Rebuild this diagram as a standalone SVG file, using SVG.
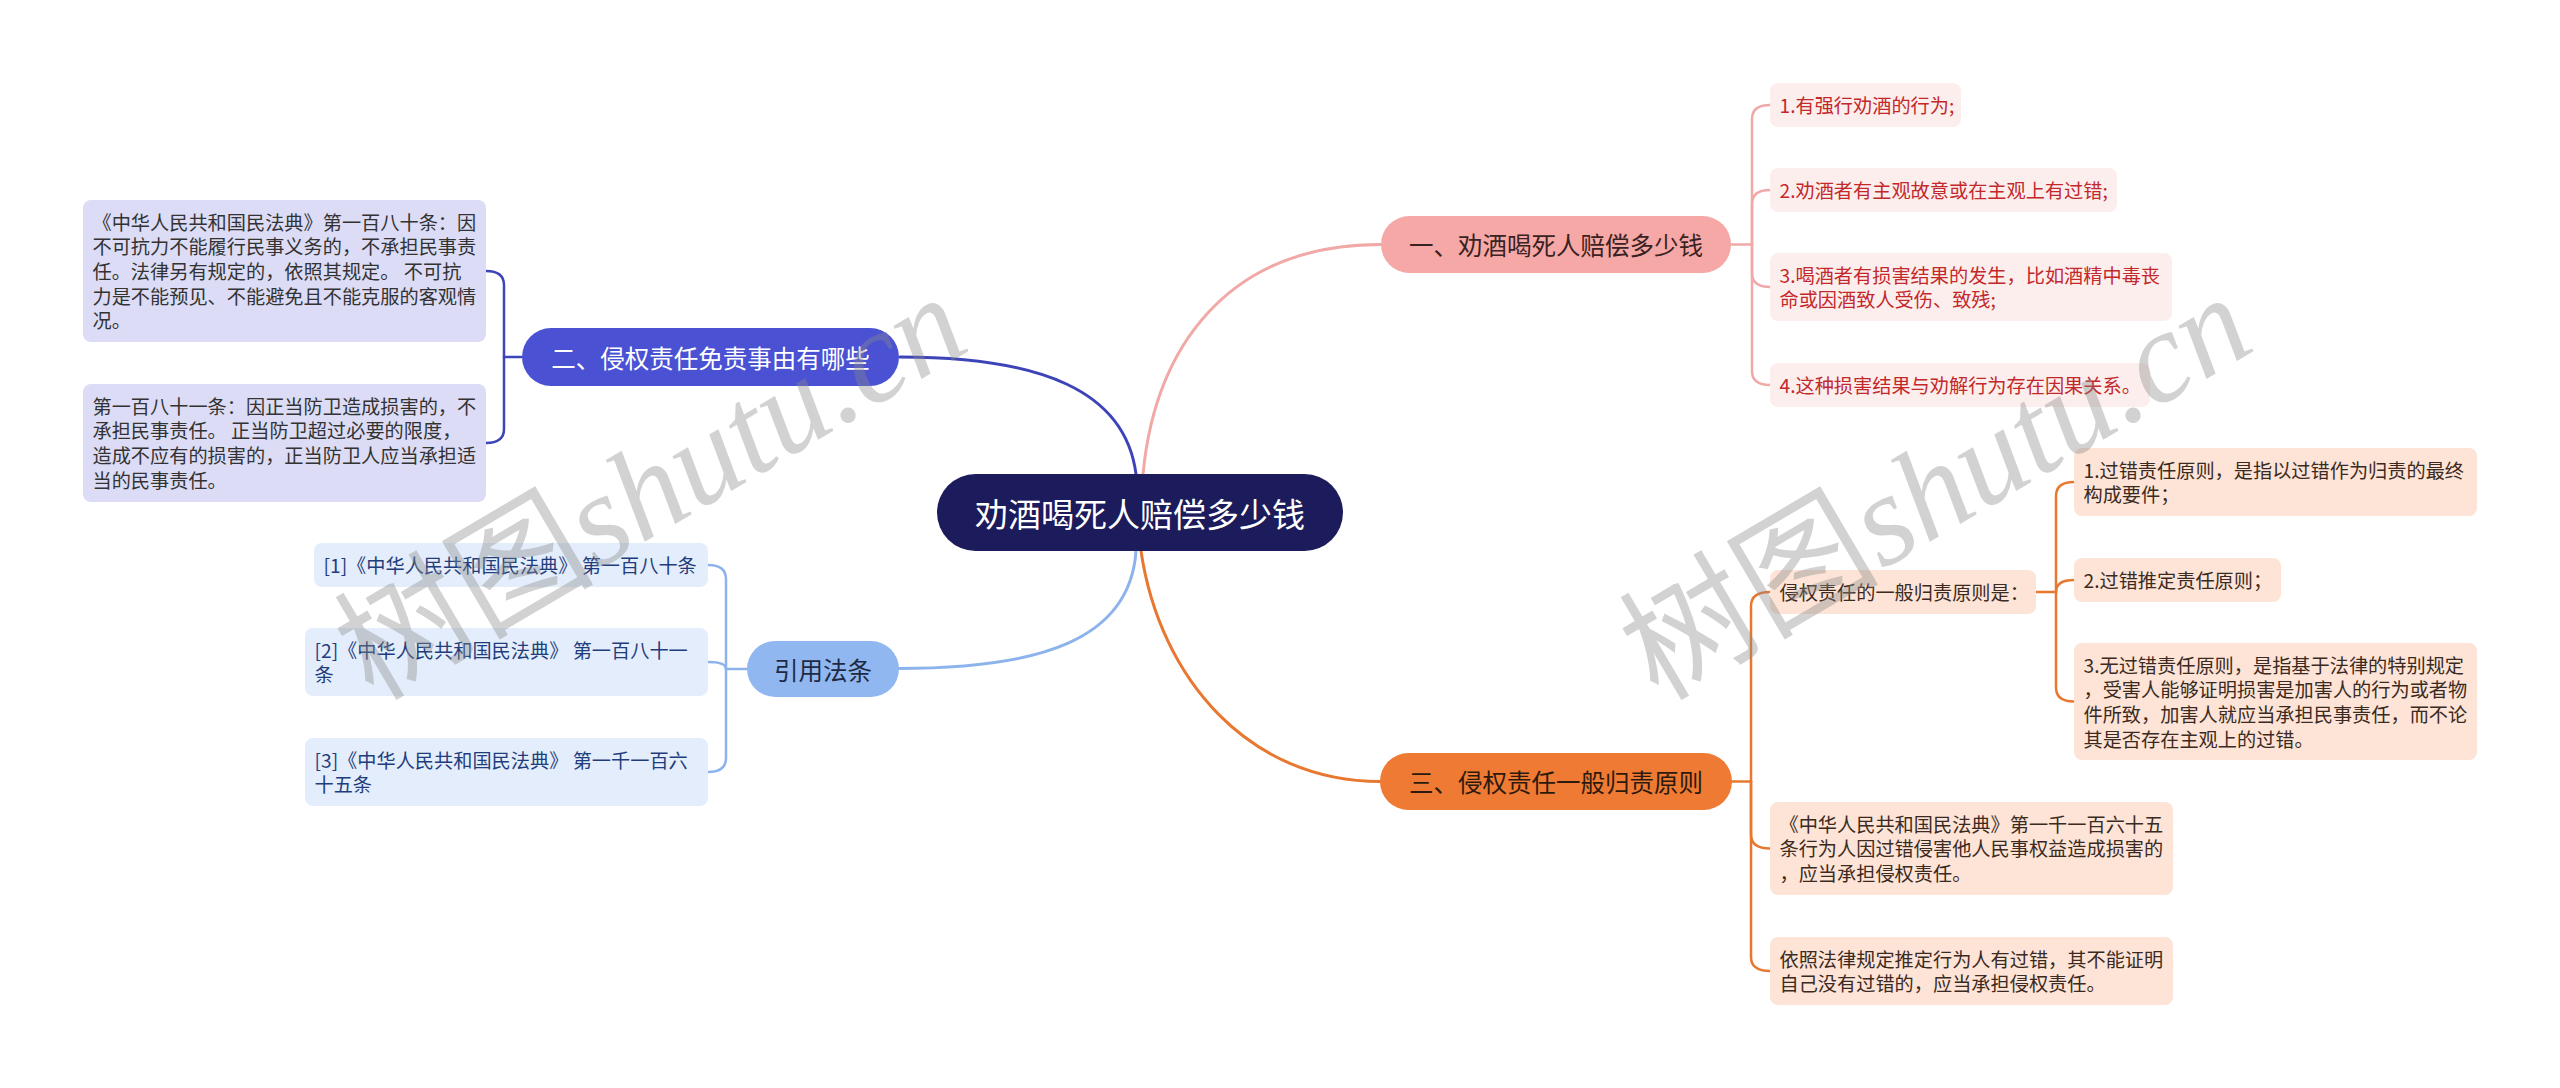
<svg xmlns="http://www.w3.org/2000/svg" width="2560" height="1088" viewBox="0 0 2560 1088">
<style>
text{font-family:"Noto Sans CJK SC","Noto Sans",sans-serif;dominant-baseline:central}
.leaf{font-size:19.2px}
.br{font-size:24.5px;text-anchor:middle}
.lp rect{fill:#fdeeee}.lp text{fill:#c3292a}
.lv rect{fill:#dcdcf6}.lv text{fill:#333}
.lb rect{fill:#e4edfb}.lb text{fill:#1f3d7c}
.lo rect{fill:#fde4d6}.lo text{fill:#3b2a22}
.c{fill:none;stroke-linecap:round}
.wm{font-size:130px;fill:#8a8a8a;opacity:0.38;dominant-baseline:alphabetic}
</style>
<rect width="2560" height="1088" fill="#fff"/>
<g id="connectors">
<path class="c" stroke="#f0a9a6" stroke-width="3" d="M1143 474 C1155 350 1225 244.5 1381 244.5"/>
<path class="c" stroke="#3d44b8" stroke-width="3" d="M900 357 C1040 357 1125 390 1136 474"/>
<path class="c" stroke="#8db3ec" stroke-width="3" d="M1136 551 C1130 640 1040 668.5 899 668.5"/>
<path class="c" stroke="#e8782f" stroke-width="3" d="M1141 551 C1160 680 1250 781.5 1380 781.5"/>
<g stroke="#f0a9a6" stroke-width="2.5" class="c" fill="none">
<path d="M1731 244.5 H1752"/>
<path d="M1752 244.5 V119 Q1752 105 1770 105"/>
<path d="M1752 244.5 V204 Q1752 190 1770 190"/>
<path d="M1752 244.5 V273 Q1752 287 1770 287"/>
<path d="M1752 244.5 V371 Q1752 385 1770 385"/>
</g>
<g stroke="#3d44b8" stroke-width="2.5" class="c" fill="none">
<path d="M522 357 H504"/>
<path d="M504 357 V285 Q504 271 486 271"/>
<path d="M504 357 V429 Q504 443 486 443"/>
</g>
<g stroke="#8db3ec" stroke-width="2.5" class="c" fill="none">
<path d="M747 669 H726"/>
<path d="M726 669 V579 Q726 565 708 565"/>
<path d="M726 669 C726 664 720 662 708 662"/>
<path d="M726 669 V758 Q726 772 708 772"/>
</g>
<g stroke="#e8782f" stroke-width="2.5" class="c" fill="none">
<path d="M1732 781.5 H1751"/>
<path d="M1751 781.5 V606 Q1751 592 1770 592"/>
<path d="M1751 781.5 V834.5 Q1751 848.5 1770 848.5"/>
<path d="M1751 781.5 V957 Q1751 971 1770 971"/>
<path d="M2036 592 H2056"/>
<path d="M2056 592 V496 Q2056 482 2074 482"/>
<path d="M2056 592 C2056 584 2062 580 2074 580"/>
<path d="M2056 592 V687.5 Q2056 701.5 2074 701.5"/>
</g>
</g>
<g id="center">
<rect x="937" y="474" width="406" height="77" rx="38.5" fill="#1c1b5b"/>
<text x="1140" y="512.5" font-size="33" text-anchor="middle" fill="#fff">劝酒喝死人赔偿多少钱</text>
</g>
<g id="b1">
<rect x="1381" y="216" width="350" height="57" rx="28.5" fill="#f6a8a6"/>
<text class="br" x="1556" y="244.5" fill="#3a2222">一、劝酒喝死人赔偿多少钱</text>
</g>
<g id="b2">
<rect x="522" y="328" width="377" height="58" rx="29" fill="#4a51d3"/>
<text class="br" x="710.5" y="357" fill="#fff">二、侵权责任免责事由有哪些</text>
</g>
<g id="b3">
<rect x="1380" y="753" width="352" height="57" rx="28.5" fill="#ef7a33"/>
<text class="br" x="1556" y="781.5" fill="#2d1a0e">三、侵权责任一般归责原则</text>
</g>
<g id="b4">
<rect x="747" y="641" width="152" height="56" rx="28" fill="#91b7f0"/>
<text class="br" x="823" y="669" fill="#1e2a44">引用法条</text>
</g>
<g id="p1" class="lp"><rect x="1770" y="83" width="191" height="44" rx="8"/>
<text class="leaf" x="1779.5" y="104.8">1.有强行劝酒的行为;</text></g>
<g id="p2" class="lp"><rect x="1770" y="168" width="347" height="44" rx="8"/>
<text class="leaf" x="1779.5" y="189.8">2.劝酒者有主观故意或在主观上有过错;</text></g>
<g id="p3" class="lp"><rect x="1770" y="253" width="402" height="68" rx="8"/>
<text class="leaf" x="1779.5" y="274.8">3.喝酒者有损害结果的发生，比如酒精中毒丧</text>
<text class="leaf" x="1779.5" y="299.4">命或因酒致人受伤、致残;</text></g>
<g id="p4" class="lp"><rect x="1770" y="363" width="380" height="44" rx="8"/>
<text class="leaf" x="1779.5" y="384.8">4.这种损害结果与劝解行为存在因果关系。</text></g>
<g id="v1" class="lv"><rect x="83" y="200" width="403" height="142" rx="8"/>
<text class="leaf" x="92.5" y="221.8">《中华人民共和国民法典》第一百八十条：因</text>
<text class="leaf" x="92.5" y="246.4">不可抗力不能履行民事义务的，不承担民事责</text>
<text class="leaf" x="92.5" y="271">任。法律另有规定的，依照其规定。 不可抗</text>
<text class="leaf" x="92.5" y="295.6">力是不能预见、不能避免且不能克服的客观情</text>
<text class="leaf" x="92.5" y="320.2">况。</text></g>
<g id="v2" class="lv"><rect x="83" y="384" width="403" height="118" rx="8"/>
<text class="leaf" x="92.5" y="405.8">第一百八十一条：因正当防卫造成损害的，不</text>
<text class="leaf" x="92.5" y="430.4">承担民事责任。 正当防卫超过必要的限度，</text>
<text class="leaf" x="92.5" y="455">造成不应有的损害的，正当防卫人应当承担适</text>
<text class="leaf" x="92.5" y="479.6">当的民事责任。</text></g>
<g id="r1" class="lb"><rect x="314" y="543" width="394" height="44" rx="8"/>
<text class="leaf" x="323.5" y="564.8">[1]《中华人民共和国民法典》 第一百八十条</text></g>
<g id="r2" class="lb"><rect x="305" y="628" width="403" height="68" rx="8"/>
<text class="leaf" x="314.5" y="649.8">[2]《中华人民共和国民法典》 第一百八十一</text>
<text class="leaf" x="314.5" y="674.4">条</text></g>
<g id="r3" class="lb"><rect x="305" y="738" width="403" height="68" rx="8"/>
<text class="leaf" x="314.5" y="759.8">[3]《中华人民共和国民法典》 第一千一百六</text>
<text class="leaf" x="314.5" y="784.4">十五条</text></g>
<g id="o1" class="lo"><rect x="1770" y="570" width="266" height="44" rx="8"/>
<text class="leaf" x="1779.5" y="591.8">侵权责任的一般归责原则是：</text></g>
<g id="o2" class="lo"><rect x="1770" y="802" width="403" height="93" rx="8"/>
<text class="leaf" x="1779.5" y="823.8">《中华人民共和国民法典》第一千一百六十五</text>
<text class="leaf" x="1779.5" y="848.4">条行为人因过错侵害他人民事权益造成损害的</text>
<text class="leaf" x="1779.5" y="873">，应当承担侵权责任。</text></g>
<g id="o3" class="lo"><rect x="1770" y="937" width="403" height="68" rx="8"/>
<text class="leaf" x="1779.5" y="958.8">依照法律规定推定行为人有过错，其不能证明</text>
<text class="leaf" x="1779.5" y="983.4">自己没有过错的，应当承担侵权责任。</text></g>
<g id="q1" class="lo"><rect x="2074" y="448" width="403" height="68" rx="8"/>
<text class="leaf" x="2083.5" y="469.8">1.过错责任原则，是指以过错作为归责的最终</text>
<text class="leaf" x="2083.5" y="494.4">构成要件；</text></g>
<g id="q2" class="lo"><rect x="2074" y="558" width="207" height="44" rx="8"/>
<text class="leaf" x="2083.5" y="579.8">2.过错推定责任原则；</text></g>
<g id="q3" class="lo"><rect x="2074" y="643" width="403" height="117" rx="8"/>
<text class="leaf" x="2083.5" y="664.8">3.无过错责任原则，是指基于法律的特别规定</text>
<text class="leaf" x="2083.5" y="689.4">，受害人能够证明损害是加害人的行为或者物</text>
<text class="leaf" x="2083.5" y="714">件所致，加害人就应当承担民事责任，而不论</text>
<text class="leaf" x="2083.5" y="738.6">其是否存在主观上的过错。</text></g>
<g id="watermark">
<text class="wm" transform="translate(373 702) rotate(-30.5)">树图<tspan font-family="Liberation Serif,serif" font-style="italic">shutu.cn</tspan></text>
<text class="wm" transform="translate(1658 702) rotate(-30.5)">树图<tspan font-family="Liberation Serif,serif" font-style="italic">shutu.cn</tspan></text>
</g>
</svg>
